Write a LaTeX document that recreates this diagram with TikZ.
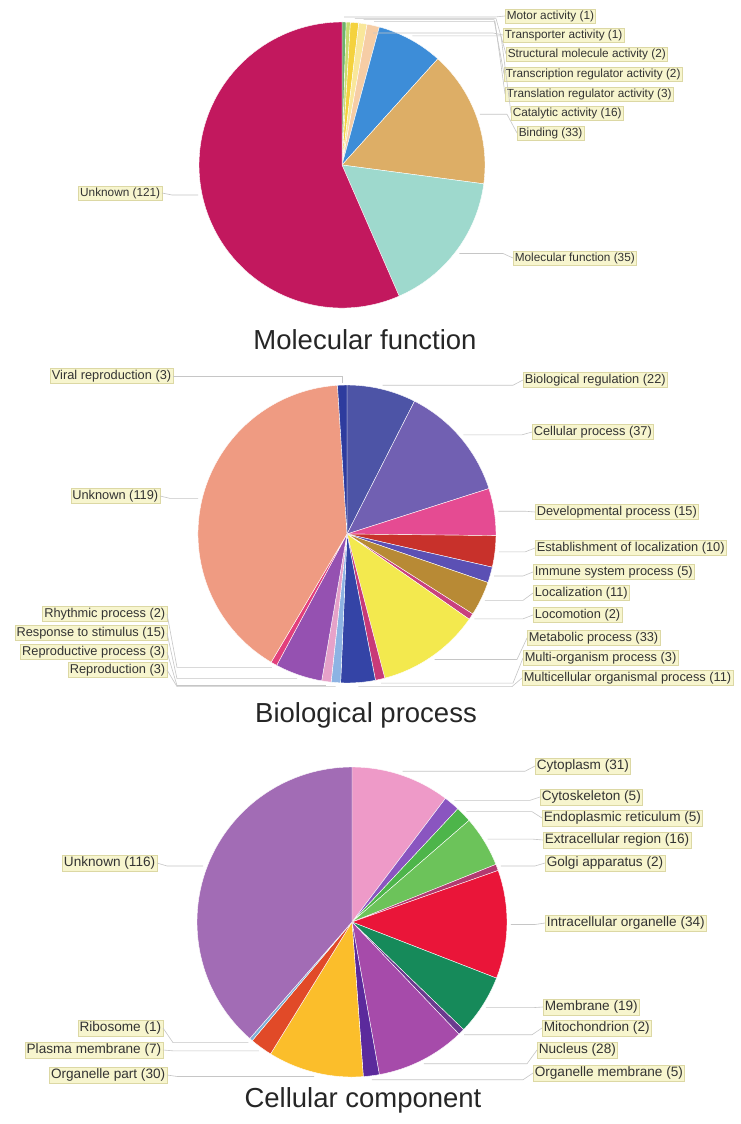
\documentclass[tikz,border=0pt]{standalone}
\usepackage{fontspec}
\setmainfont{Liberation Sans}
\usetikzlibrary{calc}

% label boxes and leader lines
\definecolor{labfill}{HTML}{F7F5CE}
\definecolor{labedge}{HTML}{DCD8A4}
\definecolor{leadgray}{HTML}{C6C6C6}
% molecular function
\definecolor{mfMotor}{HTML}{6DB36B}
\definecolor{mfTransp}{HTML}{C8DC6E}
\definecolor{mfStruct}{HTML}{F4D23E}
\definecolor{mfTransc}{HTML}{F9E79A}
\definecolor{mfTransl}{HTML}{F6CDA5}
\definecolor{mfCatal}{HTML}{3D8DD8}
\definecolor{mfBind}{HTML}{DDAE66}
\definecolor{mfMolfn}{HTML}{9ED9CD}
\definecolor{mfUnk}{HTML}{C2185E}
% biological process
\definecolor{bpBioreg}{HTML}{4D54A6}
\definecolor{bpCell}{HTML}{7160B2}
\definecolor{bpDevel}{HTML}{E54B92}
\definecolor{bpEstab}{HTML}{C8312B}
\definecolor{bpImmune}{HTML}{5B50B4}
\definecolor{bpLocal}{HTML}{B88A35}
\definecolor{bpLocom}{HTML}{C9407E}
\definecolor{bpMetab}{HTML}{F3E94E}
\definecolor{bpMultorg}{HTML}{C83A78}
\definecolor{bpMultcell}{HTML}{3444A6}
\definecolor{bpRepro}{HTML}{8DB3E3}
\definecolor{bpReprod}{HTML}{E6A2C9}
\definecolor{bpRespon}{HTML}{9551B1}
\definecolor{bpRhythm}{HTML}{E2407C}
\definecolor{bpUnk}{HTML}{EF9B82}
\definecolor{bpViral}{HTML}{2E3C9E}
% cellular component
\definecolor{ccCytopl}{HTML}{EE9AC8}
\definecolor{ccCytosk}{HTML}{8A55C0}
\definecolor{ccEndo}{HTML}{4DB54A}
\definecolor{ccExtra}{HTML}{6CC35A}
\definecolor{ccGolgi}{HTML}{B23A70}
\definecolor{ccIntra}{HTML}{EA1539}
\definecolor{ccMembr}{HTML}{168A5A}
\definecolor{ccMito}{HTML}{6A3A8E}
\definecolor{ccNucl}{HTML}{A64BAA}
\definecolor{ccOrgmem}{HTML}{5B2A9C}
\definecolor{ccOrgpart}{HTML}{FBBE2B}
\definecolor{ccPlasma}{HTML}{E14A28}
\definecolor{ccRibo}{HTML}{7DB0D8}
\definecolor{ccUnk}{HTML}{A26CB5}

\tikzset{
  lab/.style={fill=labfill, draw=labedge, line width=0.4pt, inner sep=1.6pt, text=black!80},
  lab1/.style={lab, font=\fontsize{11.8}{12}\selectfont},
  lab2/.style={lab, font=\fontsize{12.8}{13}\selectfont},
  lab3/.style={lab, font=\fontsize{13.6}{14}\selectfont},
  leader/.style={draw=leadgray, line width=0.6pt},
  to label/.style={to path={-- ([xshift=-10pt]\tikztotarget.west |- \tikztostart) -- (\tikztotarget.west)}},
  to label left/.style={to path={-- ([xshift=10pt]\tikztotarget.east |- \tikztostart) -- (\tikztotarget.east)}},
  pietitle/.style={font=\fontsize{27.5}{30}\selectfont, text=black!85},
}

% centre, radius, from, to (degrees clockwise from the top), colour
\newcommand{\pieslice}[5]{%
  \filldraw[fill=#5, draw=white, line width=0.4pt] (#1) -- ++({#3-90}:#2)
    arc[start angle={#3-90}, end angle={#4-90}, radius=#2] -- cycle;}

\begin{document}
\begin{tikzpicture}[x=1pt,y=-1pt]
  \useasboundingbox[fill=white] (0,0) rectangle (740,1124);

  % ---- Molecular function ----
  \coordinate (c1) at (342,165);
  \pieslice{c1}{143}{0}{1.682}{mfMotor}
  \pieslice{c1}{143}{1.682}{3.364}{mfTransp}
  \pieslice{c1}{143}{3.364}{6.729}{mfStruct}
  \pieslice{c1}{143}{6.729}{10.093}{mfTransc}
  \pieslice{c1}{143}{10.093}{15.140}{mfTransl}
  \pieslice{c1}{143}{15.140}{42.056}{mfCatal}
  \pieslice{c1}{143}{42.056}{97.570}{mfBind}
  \pieslice{c1}{143}{97.570}{156.449}{mfMolfn}
  \pieslice{c1}{143}{156.449}{360}{mfUnk}

  \coordinate (pMotor) at ($(c1)+({0.841-90}:148)$);
  \coordinate (pTransp) at (373,33);
  \coordinate (pStruct) at ($(c1)+({5.047-90}:147)$);
  \coordinate (pTransc) at ($(c1)+({8.411-90}:147)$);
  \coordinate (pTransl) at ($(c1)+({12.617-90}:147)$);
  \coordinate (pCatal) at ($(c1)+({28.598-90}:147)$);
  \coordinate (pBind) at ($(c1)+({69.813-90}:147)$);
  \coordinate (pMolfn) at ($(c1)+({127.009-90}:147)$);
  \coordinate (pUnk1) at ($(c1)+({258.224-90}:147)$);

  \node[lab1, anchor=west] (motor) at (505,16) {Motor activity (1)};
  \node[lab1, anchor=west] (transp) at (503,35) {Transporter activity (1)};
  \node[lab1, anchor=west] (struct) at (506,54) {Structural molecule activity (2)};
  \node[lab1, anchor=west] (transc) at (504,74) {Transcription regulator activity (2)};
  \node[lab1, anchor=west] (transl) at (505,94) {Translation regulator activity (3)};
  \node[lab1, anchor=west] (catal) at (511,113) {Catalytic activity (16)};
  \node[lab1, anchor=west] (bind) at (517,133) {Binding (33)};
  \node[lab1, anchor=west] (molfn) at (513,258) {Molecular function (35)};
  \node[lab1, anchor=east] (unk1) at (162,193) {Unknown (121)};

  \begin{scope}[leader]
    \draw (pMotor) to[to label] (motor);
    \draw (pTransp) to[to label] (transp);
    \draw (pStruct) to[to label] (struct);
    \draw (pTransc) to[to label] (transc);
    \draw (pTransl) to[to label] (transl);
    \draw (pCatal) to[to label] (catal);
    \draw (pBind) to[to label] (bind);
    \draw (pMolfn) to[to label] (molfn);
    \draw (pUnk1) to[to label left] (unk1);
  \end{scope}

  \node[pietitle] (t1) at (365,340) {Molecular function};

  % ---- Biological process ----
  \coordinate (c2) at (347,534);
  \pieslice{c2}{149}{0}{26.939}{bpBioreg}
  \pieslice{c2}{149}{26.939}{72.245}{bpCell}
  \pieslice{c2}{149}{72.245}{90.612}{bpDevel}
  \pieslice{c2}{149}{90.612}{102.857}{bpEstab}
  \pieslice{c2}{149}{102.857}{108.980}{bpImmune}
  \pieslice{c2}{149}{108.980}{122.449}{bpLocal}
  \pieslice{c2}{149}{122.449}{124.898}{bpLocom}
  \pieslice{c2}{149}{124.898}{165.306}{bpMetab}
  \pieslice{c2}{149}{165.306}{168.980}{bpMultorg}
  \pieslice{c2}{149}{168.980}{182.449}{bpMultcell}
  \pieslice{c2}{149}{182.449}{186.122}{bpRepro}
  \pieslice{c2}{149}{186.122}{189.796}{bpReprod}
  \pieslice{c2}{149}{189.796}{208.163}{bpRespon}
  \pieslice{c2}{149}{208.163}{210.612}{bpRhythm}
  \pieslice{c2}{149}{210.612}{356.327}{bpUnk}
  \pieslice{c2}{149}{356.327}{360}{bpViral}

  \coordinate (pBioreg) at ($(c2)+({13.47-90}:153)$);
  \coordinate (pCell) at ($(c2)+({49.59-90}:153)$);
  \coordinate (pDevel) at ($(c2)+({81.43-90}:153)$);
  \coordinate (pEstab) at ($(c2)+({96.73-90}:153)$);
  \coordinate (pImmune) at ($(c2)+({105.92-90}:153)$);
  \coordinate (pLocal) at ($(c2)+({115.71-90}:153)$);
  \coordinate (pLocom) at ($(c2)+({123.67-90}:153)$);
  \coordinate (pMetab) at ($(c2)+({145.10-90}:153)$);
  \coordinate (pMultorg) at ($(c2)+({167.14-90}:153)$);
  \coordinate (pMultcell) at ($(c2)+({175.71-90}:153)$);
  \coordinate (pRepro) at ($(c2)+({184.29-90}:153)$);
  \coordinate (pReprod) at ($(c2)+({187.96-90}:153)$);
  \coordinate (pRespon) at ($(c2)+({198.98-90}:153)$);
  \coordinate (pRhythm) at ($(c2)+({209.39-90}:153)$);
  \coordinate (pUnk2) at ($(c2)+({283.47-90}:153)$);
  \coordinate (pViral) at ($(c2)+({358.16-90}:151)$);

  \node[lab2, anchor=west] (bioreg) at (523,380) {Biological regulation (22)};
  \node[lab2, anchor=west] (cell) at (532,432) {Cellular process (37)};
  \node[lab2, anchor=west] (devel) at (535,512) {Developmental process (15)};
  \node[lab2, anchor=west] (estab) at (535,548) {Establishment of localization (10)};
  \node[lab2, anchor=west] (immune) at (533,572) {Immune system process (5)};
  \node[lab2, anchor=west] (local) at (533,593) {Localization (11)};
  \node[lab2, anchor=west] (locom) at (533,615) {Locomotion (2)};
  \node[lab2, anchor=west] (metab) at (527,638) {Metabolic process (33)};
  \node[lab2, anchor=west] (multorg) at (523,658) {Multi-organism process (3)};
  \node[lab2, anchor=west] (multcell) at (522,678) {Multicellular organismal process (11)};
  \node[lab2, anchor=east] (rhythm) at (167,614) {Rhythmic process (2)};
  \node[lab2, anchor=east] (respon) at (167,633) {Response to stimulus (15)};
  \node[lab2, anchor=east] (reprod) at (167,652) {Reproductive process (3)};
  \node[lab2, anchor=east] (repro) at (167,670) {Reproduction (3)};
  \node[lab2, anchor=east] (unk2) at (160,496) {Unknown (119)};
  \node[lab2, anchor=east] (viral) at (173,376) {Viral reproduction (3)};

  \begin{scope}[leader]
    \draw (pBioreg) to[to label] (bioreg);
    \draw (pCell) to[to label] (cell);
    \draw (pDevel) to[to label] (devel);
    \draw (pEstab) to[to label] (estab);
    \draw (pImmune) to[to label] (immune);
    \draw (pLocal) to[to label] (local);
    \draw (pLocom) to[to label] (locom);
    \draw (pMetab) to[to label] (metab);
    \draw (pMultorg) to[to label] (multorg);
    \draw (pMultcell) to[to label] (multcell);
    \draw (pRhythm) to[to label left] (rhythm);
    \draw (pRespon) to[to label left] (respon);
    \draw (pReprod) to[to label left] (reprod);
    \draw (pRepro) to[to label left] (repro);
    \draw (pUnk2) to[to label left] (unk2);
    \draw (pViral) -- (pViral |- viral.east) -- (viral.east);
  \end{scope}

  \node[pietitle] (t2) at (366,715) {Biological process};

  % ---- Cellular component ----
  \coordinate (c3) at (352,922);
  \pieslice{c3}{155}{0}{37.076}{ccCytopl}
  \pieslice{c3}{155}{37.076}{43.056}{ccCytosk}
  \pieslice{c3}{155}{43.056}{49.037}{ccEndo}
  \pieslice{c3}{155}{49.037}{68.173}{ccExtra}
  \pieslice{c3}{155}{68.173}{70.565}{ccGolgi}
  \pieslice{c3}{155}{70.565}{111.229}{ccIntra}
  \pieslice{c3}{155}{111.229}{133.953}{ccMembr}
  \pieslice{c3}{155}{133.953}{136.346}{ccMito}
  \pieslice{c3}{155}{136.346}{169.834}{ccNucl}
  \pieslice{c3}{155}{169.834}{175.814}{ccOrgmem}
  \pieslice{c3}{155}{175.814}{211.694}{ccOrgpart}
  \pieslice{c3}{155}{211.694}{220.066}{ccPlasma}
  \pieslice{c3}{155}{220.066}{221.262}{ccRibo}
  \pieslice{c3}{155}{221.262}{360}{ccUnk}

  \coordinate (pCytopl) at ($(c3)+({18.54-90}:159)$);
  \coordinate (pCytosk) at ($(c3)+({40.07-90}:159)$);
  \coordinate (pEndo) at ($(c3)+({46.05-90}:159)$);
  \coordinate (pExtra) at ($(c3)+({58.60-90}:159)$);
  \coordinate (pGolgi) at ($(c3)+({69.37-90}:159)$);
  \coordinate (pIntra) at ($(c3)+({90.90-90}:159)$);
  \coordinate (pMembr) at ($(c3)+({122.59-90}:159)$);
  \coordinate (pMito) at ($(c3)+({135.15-90}:159)$);
  \coordinate (pNucl) at ($(c3)+({153.09-90}:159)$);
  \coordinate (pOrgmem) at ($(c3)+({172.82-90}:159)$);
  \coordinate (pOrgpart) at ($(c3)+({193.75-90}:159)$);
  \coordinate (pPlasma) at ($(c3)+({215.88-90}:159)$);
  \coordinate (pRibo) at ($(c3)+({220.66-90}:159)$);
  \coordinate (pUnk3) at ($(c3)+({290.63-90}:159)$);

  \node[lab3, anchor=west] (cytopl) at (535,766) {Cytoplasm (31)};
  \node[lab3, anchor=west] (cytosk) at (540,797) {Cytoskeleton (5)};
  \node[lab3, anchor=west] (endo) at (542,818) {Endoplasmic reticulum (5)};
  \node[lab3, anchor=west] (extra) at (543,840) {Extracellular region (16)};
  \node[lab3, anchor=west] (golgi) at (545,863) {Golgi apparatus (2)};
  \node[lab3, anchor=west] (intra) at (545,923) {Intracellular organelle (34)};
  \node[lab3, anchor=west] (membr) at (543,1007) {Membrane (19)};
  \node[lab3, anchor=west] (mito) at (542,1028) {Mitochondrion (2)};
  \node[lab3, anchor=west] (nucl) at (537,1050) {Nucleus (28)};
  \node[lab3, anchor=west] (orgmem) at (533,1073) {Organelle membrane (5)};
  \node[lab3, anchor=east] (unk3) at (157,863) {Unknown (116)};
  \node[lab3, anchor=east] (ribo) at (163,1028) {Ribosome (1)};
  \node[lab3, anchor=east] (plasma) at (163,1050) {Plasma membrane (7)};
  \node[lab3, anchor=east] (orgpart) at (167,1075) {Organelle part (30)};

  \begin{scope}[leader]
    \draw (pCytopl) to[to label] (cytopl);
    \draw (pCytosk) to[to label] (cytosk);
    \draw (pEndo) to[to label] (endo);
    \draw (pExtra) to[to label] (extra);
    \draw (pGolgi) to[to label] (golgi);
    \draw (pIntra) to[to label] (intra);
    \draw (pMembr) to[to label] (membr);
    \draw (pMito) to[to label] (mito);
    \draw (pNucl) to[to label] (nucl);
    \draw (pOrgmem) to[to label] (orgmem);
    \draw (pUnk3) to[to label left] (unk3);
    \draw (pRibo) to[to label left] (ribo);
    \draw (pPlasma) to[to label left] (plasma);
    \draw (pOrgpart) to[to label left] (orgpart);
  \end{scope}

  \node[pietitle] (t3) at (363,1100) {Cellular component};
\end{tikzpicture}
\end{document}
